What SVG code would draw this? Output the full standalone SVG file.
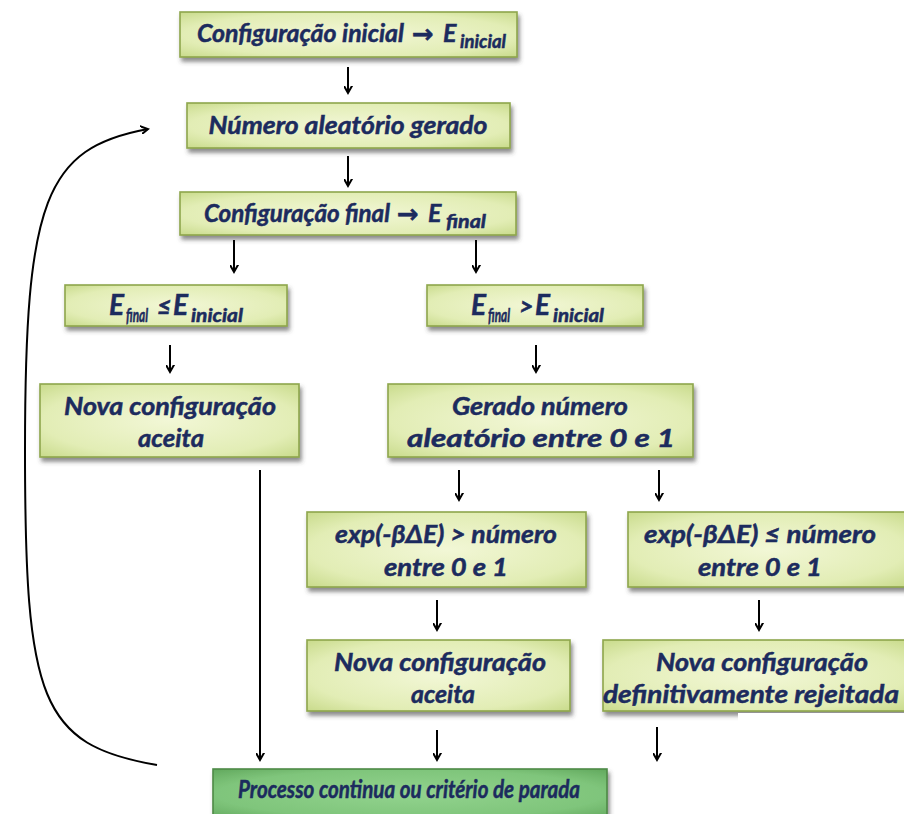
<svg xmlns="http://www.w3.org/2000/svg" width="904" height="814" viewBox="0 0 904 814">
<defs>
<radialGradient id="gLight" cx="50%" cy="50%" r="70%">
<stop offset="0" stop-color="#f2f7d6"/>
<stop offset="0.7" stop-color="#e2edb5"/>
<stop offset="1" stop-color="#c9db8c"/>
</radialGradient>
<radialGradient id="gDark" cx="50%" cy="50%" r="70%">
<stop offset="0" stop-color="#92d38e"/>
<stop offset="0.7" stop-color="#7fc57b"/>
<stop offset="1" stop-color="#62a95e"/>
</radialGradient>
<filter id="sh" x="-10%" y="-20%" width="120%" height="160%">
<feDropShadow dx="2" dy="4" stdDeviation="2.2" flood-color="#404040" flood-opacity="0.6"/>
</filter>
<marker id="ah" markerUnits="userSpaceOnUse" markerWidth="14" markerHeight="14" viewBox="-7 -10 14 14" refX="0" refY="0" orient="auto">
<path d="M-8,-4.5 L0,0 L-8,4.5" fill="none" stroke="#000" stroke-width="2"/>
</marker>
</defs>
<style>
.box{fill:url(#gLight);stroke:#8ea64c;stroke-width:1.6;filter:url(#sh)}
.boxd{fill:url(#gDark);stroke:#4e8a47;stroke-width:1.6;filter:url(#sh)}
text{font-family:Lato,"Liberation Sans",Arial,sans-serif;font-weight:bold;font-style:italic;fill:#1c2b5e;stroke:#1c2b5e;stroke-width:0.5;font-size:25px}
.c{text-anchor:middle}
.sub{font-size:18px}
.big{font-size:28px}
.ar{font-family:"DejaVu Sans",sans-serif;font-style:normal;font-size:26px}
.cn line,.cn path{stroke:#000;stroke-width:2;fill:none;marker-end:url(#ah)}
</style>
<rect width="904" height="814" fill="#fff"/>

<g id="n1">
<rect class="box" x="180" y="12" width="337" height="45"/>
<text y="42"><tspan x="197" textLength="207" lengthAdjust="spacingAndGlyphs">Configuração inicial</tspan><tspan class="ar" x="412" y="43">→</tspan><tspan x="443" y="42">E</tspan><tspan class="sub" x="460" y="48" textLength="46" lengthAdjust="spacingAndGlyphs">inicial</tspan></text>
</g>
<g id="n2">
<rect class="box" x="187" y="103" width="323" height="45"/>
<text class="c" x="348" y="134" textLength="279" lengthAdjust="spacingAndGlyphs">Número aleatório gerado</text>
</g>
<g id="n3">
<rect class="box" x="180" y="192" width="336" height="43"/>
<text y="222"><tspan x="204" textLength="186" lengthAdjust="spacingAndGlyphs">Configuração final</tspan><tspan class="ar" x="397" y="223">→</tspan><tspan x="428" y="222">E</tspan><tspan class="sub" x="446" y="228" textLength="40" lengthAdjust="spacingAndGlyphs">final</tspan></text>
</g>
<g id="n4">
<rect class="box" x="65" y="285" width="222" height="41"/>
<text y="315"><tspan class="big" x="109">E</tspan><tspan class="sub" x="126" y="322" textLength="22" lengthAdjust="spacingAndGlyphs">final</tspan><tspan x="157" y="315">≤</tspan><tspan class="big" x="173">E</tspan><tspan class="sub" x="191" y="322" textLength="52" lengthAdjust="spacingAndGlyphs">inicial</tspan></text>
</g>
<g id="n5">
<rect class="box" x="427" y="285" width="216" height="41"/>
<text y="315"><tspan class="big" x="471">E</tspan><tspan class="sub" x="488" y="322" textLength="22" lengthAdjust="spacingAndGlyphs">final</tspan><tspan x="519" y="315">&gt;</tspan><tspan class="big" x="535">E</tspan><tspan class="sub" x="553" y="322" textLength="51" lengthAdjust="spacingAndGlyphs">inicial</tspan></text>
</g>
<g id="n6">
<rect class="box" x="40" y="384" width="259" height="73"/>
<text class="c" x="170" y="415" textLength="212" lengthAdjust="spacingAndGlyphs">Nova configuração</text>
<text class="c" x="171" y="447" textLength="66" lengthAdjust="spacingAndGlyphs">aceita</text>
</g>
<g id="n7">
<rect class="box" x="388" y="384" width="305" height="73"/>
<text class="c" x="540" y="415" textLength="176" lengthAdjust="spacingAndGlyphs">Gerado número</text>
<text class="c" x="541" y="447" font-size="26" textLength="268" lengthAdjust="spacingAndGlyphs">aleatório entre 0 e 1</text>
</g>
<g id="n8">
<rect class="box" x="307" y="512" width="279" height="75"/>
<text class="c" x="446" y="543" textLength="222" lengthAdjust="spacingAndGlyphs">exp(-βΔE) &gt; número</text>
<text class="c" x="446" y="576" textLength="124" lengthAdjust="spacingAndGlyphs">entre 0 e 1</text>
</g>
<g id="n9">
<rect class="box" x="628" y="512" width="280" height="75"/>
<text class="c" x="760" y="543" textLength="232" lengthAdjust="spacingAndGlyphs">exp(-βΔE) ≤ número</text>
<text class="c" x="760" y="576" textLength="124" lengthAdjust="spacingAndGlyphs">entre 0 e 1</text>
</g>
<g id="n10">
<rect class="box" x="307" y="640" width="263" height="71"/>
<text class="c" x="440" y="671" textLength="212" lengthAdjust="spacingAndGlyphs">Nova configuração</text>
<text class="c" x="443" y="703" textLength="64" lengthAdjust="spacingAndGlyphs">aceita</text>
</g>
<g id="n11">
<rect class="box" x="603" y="640" width="305" height="71"/>
<text class="c" x="762" y="671" textLength="212" lengthAdjust="spacingAndGlyphs">Nova configuração</text>
<text class="c" x="751" y="703" textLength="296" lengthAdjust="spacingAndGlyphs">definitivamente rejeitada</text>
<rect x="738" y="713" width="166" height="10" fill="#fff"/>
</g>
<g id="n12">
<rect class="boxd" x="213" y="769" width="394" height="50"/>
<text x="238" y="798" font-size="22" textLength="342" lengthAdjust="spacingAndGlyphs">Processo continua ou critério de parada</text>
</g>

<g id="connectors" class="cn">
<line x1="348" y1="67" x2="348" y2="93"/>
<line x1="348" y1="156" x2="348" y2="186"/>
<line x1="234" y1="240" x2="234" y2="272"/>
<line x1="476" y1="240" x2="476" y2="272"/>
<line x1="170" y1="345" x2="170" y2="372"/>
<line x1="536" y1="345" x2="536" y2="372"/>
<line x1="459" y1="470" x2="459" y2="500"/>
<line x1="659" y1="470" x2="659" y2="500"/>
<line x1="437" y1="600" x2="437" y2="630"/>
<line x1="759" y1="600" x2="759" y2="630"/>
<line x1="260" y1="470" x2="260" y2="760"/>
<line x1="437" y1="730" x2="437" y2="760"/>
<line x1="657" y1="727" x2="657" y2="760"/>
<path d="M157,765 C40,745 25,700 25,450 C25,200 45,148 148,129"/>
</g>
</svg>
